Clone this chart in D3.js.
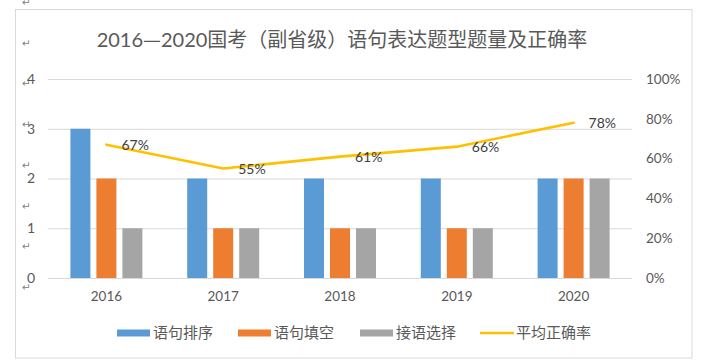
<!DOCTYPE html>
<html>
<head>
<meta charset="utf-8">
<script src="https://cdn.jsdelivr.net/npm/d3@7"></script>
<style>
  html, body { margin: 0; padding: 0; background: #fff; }
  svg { display: block; }
</style>
</head>
<body>
<svg id="chart" width="714" height="364"></svg>
<script>
const title = "2016—2020国考（副省级）语句表达题型题量及正确率";
const years = ["2016", "2017", "2018", "2019", "2020"];
const seriesNames = ["语句排序", "语句填空", "接语选择"];
const sortingCounts = [3, 2, 2, 2, 2];
const fillCounts = [2, 1, 1, 1, 2];
const connectCounts = [1, 1, 1, 1, 2];
const lineName = "平均正确率";
const accuracy = [0.67, 0.55, 0.61, 0.66, 0.78];
const leftTicks = [0, 1, 2, 3, 4];
const rightTicks = [0, 0.2, 0.4, 0.6, 0.8, 1.0];

const colors = ["#5B9BD5", "#ED7D31", "#A5A5A5"];
const lineColor = "#FFC000";
const textColor = "#595959";
const gridColor = "#D9D9D9";
const numFont = "Lato, 'Noto Sans CJK SC', sans-serif";
const cjkFont = "'Noto Sans CJK SC', Lato, sans-serif";

const svg = d3.select("#chart");

// chart frame
svg.append("rect").attr("x", 15.5).attr("y", 9.5).attr("width", 676.5).attr("height", 348.5)
  .attr("fill", "#fff").attr("stroke", gridColor).attr("stroke-width", 1);

// stray paragraph marks down the left margin
const markCount = 8;
svg.append("g").selectAll("text").data(d3.range(markCount)).join("text")
  .attr("x", 22).attr("y", i => 6 + i * 40.7)
  .attr("font-family", "'DejaVu Sans', sans-serif").attr("font-size", 10.5)
  .attr("fill", "#808080").text("↵");

const plot = { left: 48, right: 632, top: 79, bottom: 278 };

const x0 = d3.scaleBand().domain(years).range([plot.left, plot.right]).padding(0);
const groupW = 72;
const x1 = d3.scaleBand().domain(seriesNames).range([0, groupW]).paddingInner(6 / 26).paddingOuter(0);
const y = d3.scaleLinear().domain([0, 4]).range([plot.bottom, plot.top]);
const yR = d3.scaleLinear().domain([0, 1]).range([plot.bottom, plot.top]);

// gridlines
const grid = svg.append("g").attr("transform", `translate(${plot.left},0)`)
  .call(d3.axisLeft(y).tickValues(leftTicks).tickSize(-(plot.right - plot.left)).tickFormat(""));
grid.select(".domain").remove();
grid.selectAll("line").attr("stroke", gridColor).attr("stroke-width", 1);

// left axis
const yAxis = svg.append("g").attr("transform", `translate(35,0)`)
  .call(d3.axisLeft(y).tickValues(leftTicks).tickSize(0).tickPadding(0).tickFormat(d3.format("d")));
yAxis.select(".domain").remove();
yAxis.selectAll("text").attr("font-family", numFont).attr("font-size", 14).attr("fill", textColor);

// right axis
const yRAxis = svg.append("g").attr("transform", `translate(646,0)`)
  .call(d3.axisRight(yR).tickValues(rightTicks).tickSize(0).tickPadding(0).tickFormat(d3.format(".0%")));
yRAxis.select(".domain").remove();
yRAxis.selectAll("text").attr("font-family", numFont).attr("font-size", 13.5).attr("fill", textColor);

// x axis
const xAxis = svg.append("g").attr("transform", `translate(0,${plot.bottom + 13})`)
  .call(d3.axisBottom(x0).tickSize(0).tickPadding(0));
xAxis.select(".domain").remove();
xAxis.selectAll("text").attr("font-family", numFont).attr("font-size", 13.5).attr("fill", textColor);

// bars
const seriesData = [sortingCounts, fillCounts, connectCounts];
const groupOffset = (x0.bandwidth() - groupW) / 2;
seriesData.forEach((vals, si) => {
  svg.append("g").selectAll("rect").data(vals).join("rect")
    .attr("x", (d, i) => x0(years[i]) + groupOffset + x1(seriesNames[si]))
    .attr("y", d => y(d))
    .attr("width", x1.bandwidth())
    .attr("height", d => y(0) - y(d))
    .attr("fill", colors[si]);
});

// line
const cx = i => x0(years[i]) + x0.bandwidth() / 2;
const line = d3.line().x((d, i) => cx(i)).y(d => yR(d));
svg.append("path").datum(accuracy).attr("d", line)
  .attr("fill", "none").attr("stroke", lineColor).attr("stroke-width", 2.6)
  .attr("stroke-linejoin", "round").attr("stroke-linecap", "round");

svg.append("g").selectAll("text").data(accuracy).join("text")
  .attr("x", (d, i) => cx(i) + 15).attr("y", d => yR(d))
  .attr("dy", "0.4em")
  .attr("font-family", numFont).attr("font-size", 14).attr("fill", "#404040")
  .text(d => d3.format(".0%")(d));

// title: digits in Lato, dash and CJK in Noto Sans CJK
const titleParts = title.match(/[0-9]+|[^0-9]+/g);
svg.append("text").attr("x", 342).attr("y", 47).attr("text-anchor", "middle")
  .attr("font-size", 20).attr("fill", textColor)
  .selectAll("tspan").data(titleParts).join("tspan")
  .attr("font-family", d => /[0-9]/.test(d) ? numFont : cjkFont)
  .text(d => d);

// legend
const legendItems = [
  { name: seriesNames[0], type: "bar", color: colors[0], x: 117 },
  { name: seriesNames[1], type: "bar", color: colors[1], x: 238 },
  { name: seriesNames[2], type: "bar", color: colors[2], x: 360 },
  { name: lineName, type: "line", color: lineColor, x: 480 }
];
const lg = svg.append("g").selectAll("g").data(legendItems).join("g")
  .attr("transform", d => `translate(${d.x},333)`);
lg.filter(d => d.type === "bar").append("rect")
  .attr("x", 0).attr("y", -3.5).attr("width", 33).attr("height", 7).attr("fill", d => d.color);
lg.filter(d => d.type === "line").append("line")
  .attr("x1", 0).attr("x2", 34).attr("y1", 0).attr("y2", 0)
  .attr("stroke", d => d.color).attr("stroke-width", 2.6);
lg.append("text").attr("x", 36).attr("y", 0).attr("dy", "0.36em")
  .attr("font-family", cjkFont).attr("font-size", 15).attr("fill", textColor)
  .text(d => d.name);
</script>
</body>
</html>
